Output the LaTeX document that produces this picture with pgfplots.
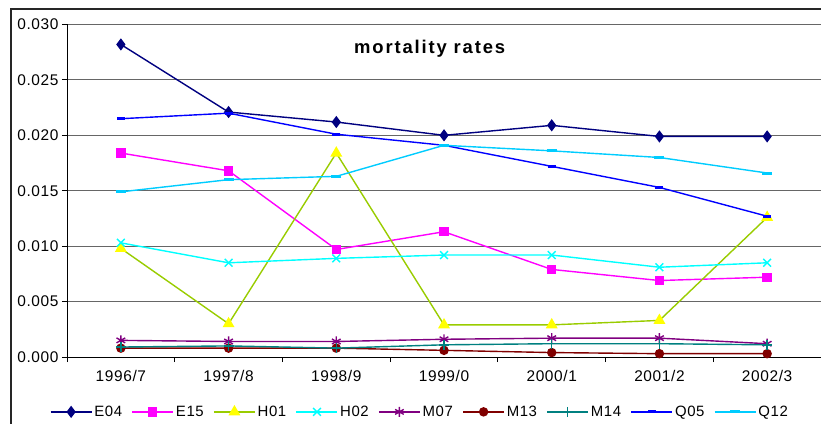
\documentclass[border=0pt]{standalone}
\usepackage{fontspec}
\setmainfont{Liberation Sans}
\newfontfamily\tickfont[LetterSpace=4]{Liberation Sans}
\newfontfamily\titlefont[LetterSpace=10]{Liberation Sans}
\usepackage{pgfplots}
\pgfplotsset{compat=1.18}
\definecolor{cE04}{RGB}{0,0,128}
\definecolor{cE15}{RGB}{255,0,255}
\definecolor{cH01}{RGB}{153,204,0}
\definecolor{cH01m}{RGB}{255,255,0}
\definecolor{cH02}{RGB}{0,255,255}
\definecolor{cM07}{RGB}{128,0,128}
\definecolor{cM13}{RGB}{128,0,0}
\definecolor{cM14}{RGB}{0,128,128}
\definecolor{cQ05}{RGB}{0,0,255}
\definecolor{cQ12}{RGB}{0,204,255}
\begin{document}
\begin{tikzpicture}[x=1bp,y=1bp]
\useasboundingbox (0,0) rectangle (821,423);
\draw[line width=1.3bp, black!85] (11,-5) -- (11,414) -- (830,414);
\begin{axis}[
  at={(67bp,66bp)}, anchor=south west,
  scale only axis, width=754bp, height=332.5bp,
  xmin=-0.5, xmax=6.5, ymin=0, ymax=0.030,
  axis x line*=bottom, axis y line*=left,
  axis line style={line width=0.9bp, black},
  xtick={-0.5,0.5,1.5,2.5,3.5,4.5,5.5,6.5}, xticklabels={},
  extra x ticks={0,1,2,3,4,5,6},
  extra x tick labels={1996/7,1997/8,1998/9,1999/0,2000/1,2001/2,2002/3},
  extra x tick style={major tick length=0pt, xmajorgrids=false, xticklabel style={yshift=-10bp}},
  ytick={0,0.005,0.01,0.015,0.02,0.025,0.03},
  tick align=outside, major tick length=5bp,
  tick style={line width=0.9bp, black},
  ymajorgrids, grid style={black!60, line width=0.9bp},
  scaled y ticks=false,
  yticklabel style={/pgf/number format/.cd, fixed, fixed zerofill, precision=3},
  /pgf/number format/assume math mode=true,
  ticklabel style={font=\tickfont\fontsize{15.5}{18}\selectfont},
  every axis plot/.append style={line width=1.4bp},
  legend columns=9,
  legend style={at={(0.468,-0.165)}, anchor=center, draw=none, fill=none,
    font=\tickfont\fontsize{15}{18}\selectfont,
    /tikz/every even column/.append style={column sep=7.5bp}},
  legend image code/.code={\draw[mark repeat=2,mark phase=2] plot coordinates {(0bp,0bp) (20.5bp,0bp) (41bp,0bp)};},
]
\addplot[cE04, mark=diamond*, mark size=5bp, mark options={fill=cE04}] coordinates {(0,0.0282) (1,0.0221) (2,0.0212) (3,0.0200) (4,0.0209) (5,0.0199) (6,0.0199)};
\addplot[cE15, mark=square*, mark size=4bp, mark options={fill=cE15}] coordinates {(0,0.0184) (1,0.0168) (2,0.0097) (3,0.0113) (4,0.0079) (5,0.0069) (6,0.0072)};
\addplot[cH01, mark=triangle*, mark size=5.5bp, mark options={fill=cH01m, draw=cH01m}] coordinates {(0,0.0098) (1,0.0030) (2,0.0184) (3,0.0029) (4,0.0029) (5,0.0033) (6,0.0126)};
\addplot[cH02, mark=x, mark size=5.5bp] coordinates {(0,0.0103) (1,0.0085) (2,0.0089) (3,0.0092) (4,0.0092) (5,0.0081) (6,0.0085)};
\addplot[cM07, mark=asterisk, mark size=5bp] coordinates {(0,0.0015) (1,0.0014) (2,0.0014) (3,0.0016) (4,0.0017) (5,0.0017) (6,0.0012)};
\addplot[cM13, mark=*, mark size=4bp, mark options={fill=cM13}] coordinates {(0,0.0008) (1,0.0008) (2,0.0008) (3,0.0006) (4,0.0004) (5,0.0003) (6,0.0003)};
\addplot[cM14, mark=+, mark size=5bp] coordinates {(0,0.0009) (1,0.0010) (2,0.0008) (3,0.0011) (4,0.0012) (5,0.0012) (6,0.0011)};
\addplot[cQ05, mark=-, mark size=4bp, mark options={line width=3bp}] coordinates {(0,0.0215) (1,0.0220) (2,0.0201) (3,0.0191) (4,0.0172) (5,0.0153) (6,0.0127)};
\addplot[cQ12, mark=-, mark size=5bp, mark options={line width=3bp}] coordinates {(0,0.0149) (1,0.0160) (2,0.0163) (3,0.0191) (4,0.0186) (5,0.0180) (6,0.0166)};
\legend{E04,E15,H01,H02,M07,M13,M14,Q05,Q12}
\node[anchor=base, font=\titlefont\bfseries\fontsize{18.5}{22}\selectfont] at (rel axis cs:0.481,0.914) {mortality rates};
\end{axis}
\end{tikzpicture}
\end{document}
